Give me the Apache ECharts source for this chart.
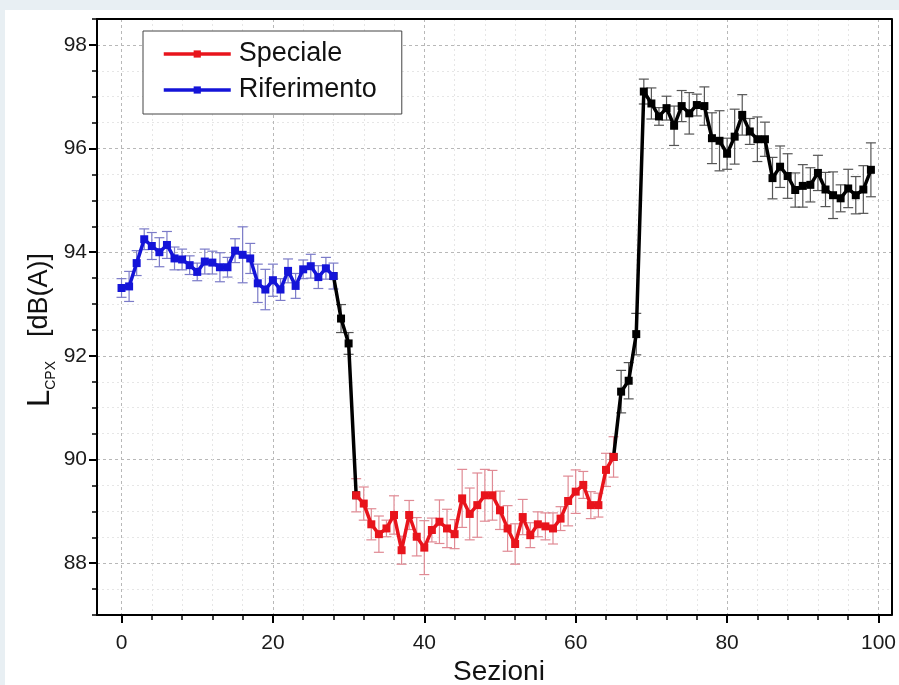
<!DOCTYPE html>
<html>
<head>
<meta charset="utf-8">
<script src="https://cdn.jsdelivr.net/npm/echarts@6.0.0/dist/echarts.min.js"></script>
<style>
html,body{margin:0;padding:0;background:#e8eff3;}
#chart{width:899px;height:685px;}
</style>
</head>
<body>
<div id="chart"></div>
<script>
// ---- data ----
// L_CPX [dB(A)] for Sezioni 0..99
const lcpx = [
  93.31, 93.34, 93.79, 94.25, 94.12, 94.00, 94.14, 93.88, 93.86, 93.75,
  93.62, 93.82, 93.80, 93.71, 93.71, 94.03, 93.95, 93.88, 93.40, 93.28,
  93.46, 93.28, 93.64, 93.35, 93.67, 93.73, 93.52, 93.69, 93.54, 92.72,
  92.24, 89.31, 89.15, 88.75, 88.56, 88.67, 88.93, 88.25, 88.93, 88.51,
  88.30, 88.64, 88.80, 88.67, 88.56, 89.25, 88.95, 89.12, 89.31, 89.31,
  89.02, 88.67, 88.37, 88.89, 88.54, 88.75, 88.71, 88.67, 88.86, 89.20,
  89.38, 89.51, 89.12, 89.12, 89.80, 90.05, 91.31, 91.52, 92.42, 97.10,
  96.87, 96.62, 96.78, 96.44, 96.82, 96.68, 96.84, 96.82, 96.20, 96.15,
  95.90, 96.23, 96.65, 96.33, 96.18, 96.18, 95.43, 95.65, 95.47, 95.20,
  95.28, 95.30, 95.53, 95.21, 95.10, 95.04, 95.23, 95.10, 95.21, 95.59
];
// error bar half-widths
const errs = [
  0.18, 0.29, 0.24, 0.20, 0.26, 0.28, 0.26, 0.22, 0.20, 0.18,
  0.17, 0.24, 0.22, 0.28, 0.19, 0.23, 0.54, 0.29, 0.37, 0.39,
  0.31, 0.21, 0.23, 0.24, 0.18, 0.23, 0.22, 0.21, 0.25, 0.27,
  0.21, 0.32, 0.32, 0.30, 0.35, 0.16, 0.37, 0.27, 0.28, 0.37,
  0.52, 0.23, 0.42, 0.37, 0.28, 0.56, 0.50, 0.62, 0.50, 0.48,
  0.37, 0.44, 0.39, 0.34, 0.24, 0.24, 0.26, 0.30, 0.23, 0.48,
  0.42, 0.26, 0.26, 0.23, 0.32, 0.39, 0.41, 0.35, 0.40, 0.24,
  0.30, 0.17, 0.23, 0.38, 0.30, 0.40, 0.21, 0.37, 0.49, 0.58,
  0.30, 0.53, 0.39, 0.25, 0.43, 0.33, 0.40, 0.40, 0.43, 0.33,
  0.41, 0.33, 0.34, 0.33, 0.45, 0.26, 0.37, 0.36, 0.46, 0.52
];
// index ranges (inclusive) of each segment
const riferimentoRange = [0, 28];
const transizione1Range = [28, 31];
const specialeRange = [31, 65];
const transizione2Range = [65, 99];

const xMajorTicks = [0, 20, 40, 60, 80, 100];
const xMinorTicks = [4, 8, 12, 16, 24, 28, 32, 36, 44, 48, 52, 56, 64, 68, 72, 76, 84, 88, 92, 96];
const yMajorTicks = [88, 90, 92, 94, 96, 98];
const yMinorTicks = [87, 87.5, 88.5, 89, 89.5, 90.5, 91, 91.5, 92.5, 93, 93.5, 94.5, 95, 95.5, 96.5, 97, 97.5, 98.5];

const legendNames = ['Speciale', 'Riferimento'];
const xTitle = 'Sezioni';

// ---- build ----
function seg(r) {
  const out = [];
  for (let i = r[0]; i <= r[1]; i++) out.push([i, lcpx[i], errs[i]]);
  return out;
}
function segIdx(list) {
  return list.map(i => [i, lcpx[i], errs[i]]);
}
const FONT = "'Liberation Sans', Arial, sans-serif";
const RED = '#e8141c', BLUE = '#1414d8', BLACK = '#000000';

function errRender(color) {
  return function (params, api) {
    const x = api.value(0), y = api.value(1), e = api.value(2);
    const t = api.coord([x, y + e]);
    const b = api.coord([x, y - e]);
    const w = 5;
    const st = { stroke: color, lineWidth: 1.2 };
    return {
      type: 'group',
      children: [
        { type: 'line', shape: { x1: t[0], y1: t[1], x2: b[0], y2: b[1] }, style: st },
        { type: 'line', shape: { x1: t[0] - w, y1: t[1], x2: t[0] + w, y2: t[1] }, style: st },
        { type: 'line', shape: { x1: b[0] - w, y1: b[1], x2: b[0] + w, y2: b[1] }, style: st }
      ]
    };
  };
}
const blackIdx = [];
for (let i = transizione1Range[0] + 1; i < transizione1Range[1]; i++) blackIdx.push(i);
for (let i = transizione2Range[0] + 1; i <= transizione2Range[1]; i++) blackIdx.push(i);

const XMIN = -3.24, XMAX = 101.7, YMIN = 87, YMAX = 98.5;

const chart = echarts.init(document.getElementById('chart'), null, { renderer: 'canvas' });
const option = {
  backgroundColor: '#e8eff3',
  animation: false,
  graphic: [
    { type: 'rect', z: -10, shape: { x: 5, y: 10, width: 894, height: 675 }, style: { fill: '#ffffff' } },
    { type: 'text', x: 499, y: 672, style: { text: xTitle, font: '28px ' + FONT, fill: '#111', align: 'center', verticalAlign: 'middle' } },
    {
      type: 'text', x: 40, y: 330, rotation: Math.PI / 2,
      style: {
        text: '{L|L}{s|CPX}{u|[dB(A)]}',
        align: 'center', verticalAlign: 'middle', fill: '#111',
        rich: {
          L: { fontSize: 31, fontFamily: FONT, fill: '#111', lineHeight: 36, verticalAlign: 'middle' },
          s: { fontSize: 14, fontFamily: FONT, fill: '#111', lineHeight: 14, verticalAlign: 'bottom', padding: [0, 24, 0, 0] },
          u: { fontSize: 27, fontFamily: FONT, fill: '#111', lineHeight: 36, verticalAlign: 'middle' }
        }
      }
    }
  ],
  grid: { left: 97, right: 6, top: 19, bottom: 70, containLabel: false },
  legend: {
    data: legendNames,
    orient: 'vertical',
    left: 143, top: 31,
    padding: [8, 25, 9, 19],
    itemGap: 6,
    itemWidth: 67, itemHeight: 9,
    lineStyle: { width: 3.5 },
    backgroundColor: '#ffffff',
    borderColor: '#444', borderWidth: 1, borderRadius: 0,
    textStyle: { fontSize: 27, fontFamily: FONT, color: '#111', lineHeight: 30, padding: [0, 0, 0, 3] }
  },
  xAxis: [
    {
      type: 'value', min: XMIN, max: XMAX,
      axisLine: { show: true, onZero: false, lineStyle: { color: '#000', width: 2 } },
      axisTick: { show: true, inside: false, length: 8, customValues: xMajorTicks, lineStyle: { color: '#000', width: 2 } },
      axisLabel: { show: true, customValues: xMajorTicks, margin: 18, fontSize: 21, fontFamily: FONT, color: '#1a1a1a' },
      splitLine: { show: true, lineStyle: { color: '#b8b8b8', width: 1, type: [3, 3] } }
    },
    {
      type: 'value', min: XMIN, max: XMAX, position: 'bottom',
      axisLine: { show: false, onZero: false },
      axisTick: { show: true, inside: false, length: 5, customValues: xMinorTicks, lineStyle: { color: '#000', width: 1.5 } },
      axisLabel: { show: false },
      splitLine: { show: true, lineStyle: { color: '#e6e6e6', width: 1, type: [2, 3] } }
    },
    {
      type: 'value', min: XMIN, max: XMAX, position: 'top',
      axisLine: { show: true, onZero: false, lineStyle: { color: '#000', width: 2 } },
      axisTick: { show: false }, axisLabel: { show: false }, splitLine: { show: false }
    }
  ],
  yAxis: [
    {
      type: 'value', min: YMIN, max: YMAX,
      axisLine: { show: true, onZero: false, lineStyle: { color: '#000', width: 2 } },
      axisTick: { show: true, inside: false, length: 8, customValues: yMajorTicks, lineStyle: { color: '#000', width: 2 } },
      axisLabel: { show: true, customValues: yMajorTicks, margin: 10, fontSize: 21, fontFamily: FONT, color: '#1a1a1a' },
      splitLine: { show: true, lineStyle: { color: '#b8b8b8', width: 1, type: [3, 3] } }
    },
    {
      type: 'value', min: YMIN, max: YMAX, position: 'left',
      axisLine: { show: false, onZero: false },
      axisTick: { show: true, inside: false, length: 5, customValues: yMinorTicks, lineStyle: { color: '#000', width: 1.5 } },
      axisLabel: { show: false },
      splitLine: { show: true, lineStyle: { color: '#e6e6e6', width: 1, type: [2, 3] } }
    },
    {
      type: 'value', min: YMIN, max: YMAX, position: 'right',
      axisLine: { show: true, onZero: false, lineStyle: { color: '#000', width: 2 } },
      axisTick: { show: false }, axisLabel: { show: false }, splitLine: { show: false }
    }
  ],
  series: [
    { name: 'errBlack', type: 'custom', renderItem: errRender('#555555'), data: segIdx(blackIdx), encode: { x: 0, y: 1 }, z: 1, silent: true },
    { name: 'errBlue', type: 'custom', renderItem: errRender('#7b7bc8'), data: seg(riferimentoRange), encode: { x: 0, y: 1 }, z: 1, silent: true },
    { name: 'errRed', type: 'custom', renderItem: errRender('#e08a94'), data: seg(specialeRange), encode: { x: 0, y: 1 }, z: 1, silent: true },
    { name: 'trans1', type: 'line', data: seg(transizione1Range), symbol: 'rect', symbolSize: 8, itemStyle: { color: BLACK }, lineStyle: { color: BLACK, width: 3.5 }, z: 2 },
    { name: 'trans2', type: 'line', data: seg(transizione2Range), symbol: 'rect', symbolSize: 8, itemStyle: { color: BLACK }, lineStyle: { color: BLACK, width: 3.5 }, z: 2 },
    { name: 'Riferimento', type: 'line', data: seg(riferimentoRange), symbol: 'rect', symbolSize: 8, itemStyle: { color: BLUE }, lineStyle: { color: BLUE, width: 3.5 }, z: 3 },
    { name: 'Speciale', type: 'line', data: seg(specialeRange), symbol: 'rect', symbolSize: 8, itemStyle: { color: RED }, lineStyle: { color: RED, width: 3.5 }, z: 3 }
  ]
};
chart.setOption(option);
</script>
</body>
</html>
